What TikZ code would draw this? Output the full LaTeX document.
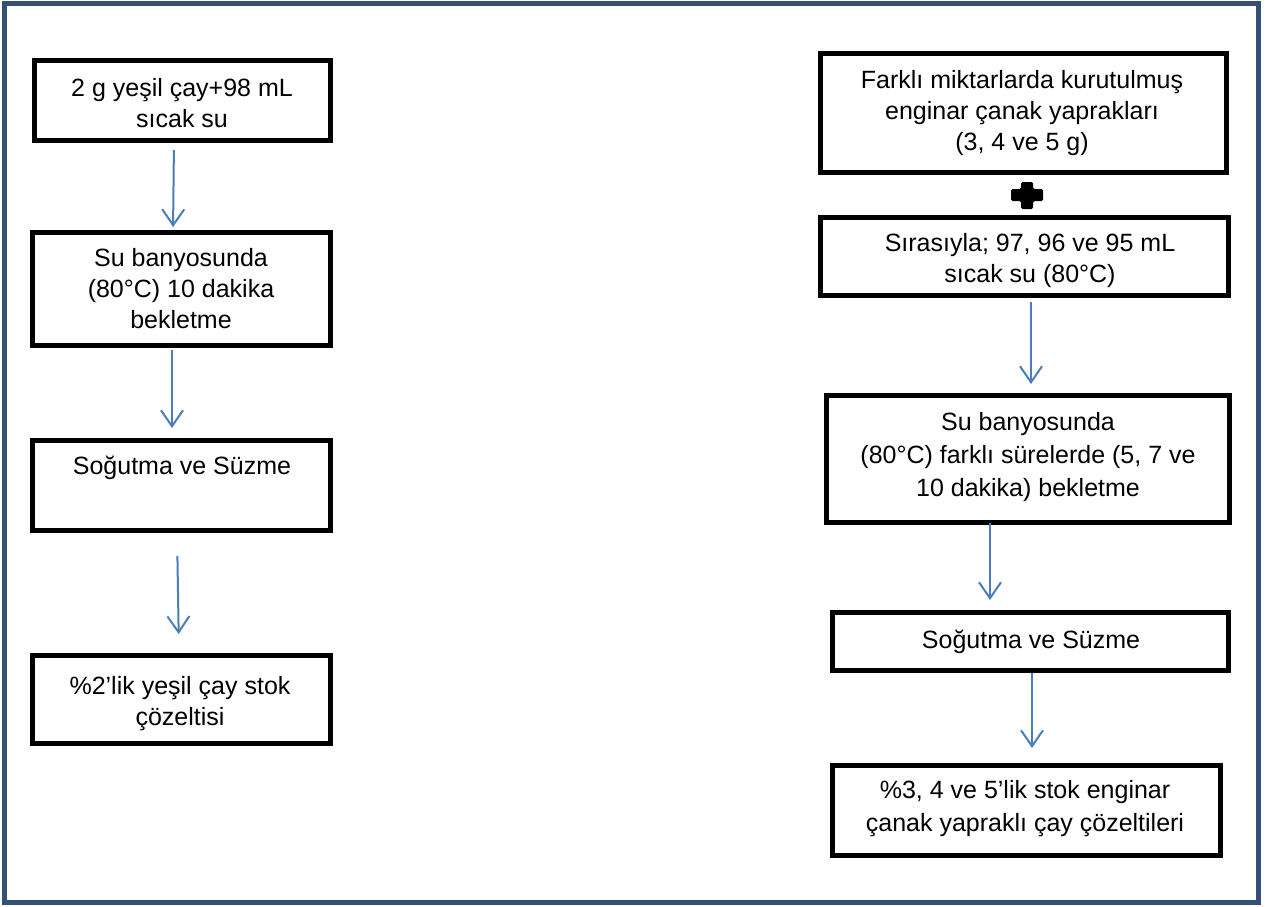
\documentclass[tikz,border=0pt]{standalone}
\usepackage{fontspec}
\setmainfont{Liberation Sans}
\usetikzlibrary{arrows.meta}
\definecolor{frame}{RGB}{52,80,118}
\definecolor{arrblue}{RGB}{74,126,187}
\tikzset{
  stepbox/.style={draw=black, line width=5pt, inner sep=0pt, outer sep=0pt, fill=white},
  txt/.style={align=center, inner sep=0pt, font=\fontsize{25}{31}\selectfont},
  arr/.style={draw=arrblue, line width=2pt, -{Straight Barb[length=16pt,width=22pt,line width=2pt]}}
}
\begin{document}
\begin{tikzpicture}[x=1pt,y=-1pt]
\useasboundingbox (0,0) rectangle (1265,906);
\fill[white] (0,0) rectangle (1265,906);
\draw[frame, line width=5pt] (4,3) rectangle (1258,902);

% left column boxes
\node[stepbox, minimum width=296pt, minimum height=80pt] (b1) at (182,100) {};
\node[stepbox, minimum width=298pt, minimum height=113pt] (b2) at (181,288.5) {};
\node[stepbox, minimum width=298pt, minimum height=90pt] (b3) at (181,485) {};
\node[stepbox, minimum width=298pt, minimum height=88pt] (b4) at (181,699) {};

\node[txt] (t1) at (182,103) {2 g yeşil çay+98 mL\\sıcak su};
\node[txt] (t2) at (181,289) {Su banyosunda\\(80°C) 10 dakika\\bekletme};
\node[txt] (t3) at (182,468) {Soğutma ve Süzme};
\node[txt] (t4) at (180,704) {\%2’lik yeşil çay stok\\çözeltisi};

% right column boxes
\node[stepbox, minimum width=406pt, minimum height=119pt] (r1) at (1023,112.5) {};
\node[stepbox, minimum width=408pt, minimum height=78pt] (r2) at (1024,256) {};
\node[stepbox, minimum width=403pt, minimum height=127pt] (r3) at (1027.5,458.5) {};
\node[stepbox, minimum width=396pt, minimum height=58pt] (r4) at (1030,641) {};
\node[stepbox, minimum width=388pt, minimum height=90pt] (r5) at (1026,810) {};

\node[txt] (s1) at (1022,113) {Farklı miktarlarda kurutulmuş\\enginar çanak yaprakları\\(3, 4 ve 5 g)};
\node[txt] (s2) at (1030,261) {Sırasıyla; 97, 96 ve 95 mL\\sıcak su (80°C)};
\node[txt, font=\fontsize{25}{33}\selectfont] (s3) at (1028,457) {Su banyosunda\\(80°C) farklı sürelerde (5, 7 ve\\10 dakika) bekletme};
\node[txt] (s4) at (1031,642) {Soğutma ve Süzme};
\node[txt, font=\fontsize{25}{33}\selectfont] (s5) at (1025,809) {\%3, 4 ve 5’lik stok enginar\\çanak yapraklı çay çözeltileri};

% plus sign
\fill[black, rounded corners=1.5pt]
  (1021,182) -- (1033,182) -- (1033,189) -- (1043,189) -- (1043,201) -- (1033,201)
  -- (1033,209) -- (1021,209) -- (1021,201) -- (1011,201) -- (1011,189) -- (1021,189) -- cycle;

% arrows
\draw[arr, shorten <=10pt, shorten >=5pt] ([xshift=-8pt]b1.south) -- ([xshift=-8pt]b2.north);
\draw[arr, shorten <=5pt, shorten >=12pt] ([xshift=-9pt]b2.south) -- ([xshift=-9pt]b3.north);
\draw[arr, shorten <=26pt, shorten >=21pt] ([xshift=-4pt]b3.south) -- ([xshift=-2pt]b4.north);
\draw[arr, shorten <=7pt, shorten >=11pt] ([xshift=7pt]r2.south) -- ([xshift=3.5pt]r3.north);
\draw[arr, shorten <=1pt, shorten >=12pt] ([xshift=-37.5pt]r3.south) -- ([xshift=-40pt]r4.north);
\draw[arr, shorten <=3pt, shorten >=17pt] ([xshift=2pt]r4.south) -- ([xshift=6pt]r5.north);
\end{tikzpicture}
\end{document}
